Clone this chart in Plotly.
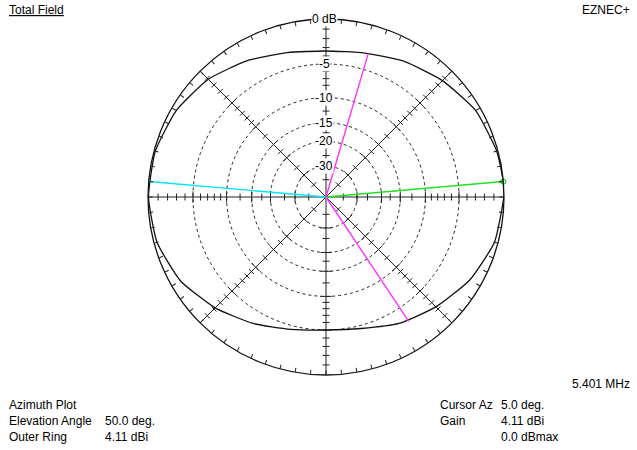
import numpy as np
import plotly.graph_objects as go

W, H = 637, 450
CX, CY, R = 326, 197, 178  # pixel geometry of the polar plot

# ---- data ----
az_deg = [0, 5, 15, 30, 45, 60, 75, 90, 105, 120, 135, 150, 165, 180,
          195, 210, 225, 240, 255, 270, 285, 300, 315, 330, 345]
gain_db = [-0.02, 0.0, -0.12, -0.5, -1.34, -2.2, -3.05, -3.4, -3.0, -2.1, -1.15, -0.5, -0.12, -0.05,
           -0.3, -1.0, -2.18, -3.4, -4.5, -5.0, -4.6, -3.4, -2.33, -1.2, -0.35]

ring_db = [-5, -10, -15, -20, -30]
ring_labels = ["-5", "-10", "-15", "-20", "-30"]
spoke_az = [0, 45, 90, 135, 180, 225, 270, 315]
spoke_tick_db = [-1, -2, -3, -4, -6, -7, -8, -9, -12.5, -17.5, -25, -40]

cursor_az = 5.0
cursor_gain = 0.0
back_az = 175.0
bw_az = [73.6, 303.6]
bw_gain = [-3.0, -3.0]

left_labels = ["Azimuth Plot", "Elevation Angle", "Outer Ring"]
left_values = ["", "50.0 deg.", "4.11 dBi"]
right_labels = ["Cursor Az", "Gain", ""]
right_values = ["5.0 deg.", "4.11 dBi", "0.0 dBmax"]
freq_label = "5.401 MHz"


def arrl(db):
    """ARRL log scale: 0.89 per 2 dB."""
    return 0.89 ** (-np.asarray(db, dtype=float) / 2.0)


FONT = "Liberation Sans, Arial, sans-serif"
TXT = 12
fig = go.Figure()

# pattern
fig.add_trace(go.Scatterpolar(
    r=list(arrl(gain_db)) + [float(arrl(gain_db[0]))],
    theta=az_deg + [az_deg[0]],
    mode="lines", line=dict(color="#111111", width=1.3, shape="spline", smoothing=0.5),
    hoverinfo="skip", showlegend=False))

# spoke ticks
t_r, t_th, t_ang = [], [], []
for a in spoke_az:
    for d in spoke_tick_db:
        t_r.append(float(arrl(d))); t_th.append(a); t_ang.append(-a)
fig.add_trace(go.Scatterpolar(
    r=t_r, theta=t_th, mode="markers",
    marker=dict(symbol="line-ns", size=5, angle=t_ang, line=dict(color="#222222", width=1)),
    hoverinfo="skip", showlegend=False))
c_r, c_th, c_ang = [], [], []
for a in spoke_az:
    for d in ring_db:
        c_r.append(float(arrl(d))); c_th.append(a); c_ang.append(-a)
fig.add_trace(go.Scatterpolar(
    r=c_r, theta=c_th, mode="markers",
    marker=dict(symbol="line-ns", size=8, angle=c_ang, line=dict(color="#222222", width=1)),
    hoverinfo="skip", showlegend=False))

# cyan back line, green cursor line, magenta beamwidth lines
fig.add_trace(go.Scatterpolar(r=[0, 1], theta=[back_az, back_az], mode="lines",
                              line=dict(color="#00e5ff", width=1.4), hoverinfo="skip", showlegend=False))
fig.add_trace(go.Scatterpolar(r=[0, float(arrl(cursor_gain))], theta=[cursor_az, cursor_az], mode="lines",
                              line=dict(color="#22e022", width=1.4), hoverinfo="skip", showlegend=False))
fig.add_trace(go.Scatterpolar(
    r=[0, float(arrl(bw_gain[0])), None, 0, float(arrl(bw_gain[1]))],
    theta=[bw_az[0], bw_az[0], None, bw_az[1], bw_az[1]], mode="lines",
    line=dict(color="#ff33ff", width=1.4), hoverinfo="skip", showlegend=False))
fig.add_trace(go.Scatterpolar(r=[float(arrl(cursor_gain))], theta=[cursor_az], mode="markers",
                              marker=dict(symbol="circle-open", size=5, color="#22cc22",
                                          line=dict(width=1.2, color="#22cc22")),
                              hoverinfo="skip", showlegend=False))

# dummy trace for tick-ring subplot
fig.add_trace(go.Scatterpolar(r=[0], theta=[0], subplot="polar2", mode="markers",
                              marker=dict(opacity=0), hoverinfo="skip", showlegend=False))

dom_x = [(CX - R) / W, (CX + R) / W]
dom_y = [1 - (CY + R) / H, 1 - (CY - R) / H]

fig.update_layout(
    width=W, height=H, margin=dict(l=0, r=0, t=0, b=0),
    paper_bgcolor="white", plot_bgcolor="white", showlegend=False,
    polar=dict(
        domain=dict(x=dom_x, y=dom_y), bgcolor="white",
        angularaxis=dict(rotation=0, direction="counterclockwise", tickmode="array",
                         tickvals=spoke_az, showticklabels=False, ticks="",
                         showgrid=True, gridcolor="#222222", gridwidth=1,
                         showline=True, linecolor="#111111", linewidth=1.3),
        radialaxis=dict(range=[0, 1], tickmode="array", tickvals=list(arrl(ring_db)),
                        showticklabels=False, ticks="", showline=False,
                        showgrid=True, gridcolor="#222222", gridwidth=1, griddash="3px,3px"),
    ),
    polar2=dict(
        domain=dict(x=dom_x, y=dom_y), bgcolor="rgba(0,0,0,0)",
        angularaxis=dict(rotation=0, direction="counterclockwise", tickmode="linear",
                         tick0=0, dtick=5, ticks="inside", ticklen=4, tickcolor="#222222",
                         tickwidth=1, showgrid=False, showline=False, showticklabels=False),
        radialaxis=dict(range=[0, 1], visible=False),
    ),
    font=dict(family=FONT, size=TXT, color="black"),
)


def px(x):
    return x / W


def py(y):
    return 1 - y / H


ann = []
# ring labels along vertical spoke
ann.append(dict(x=px(324), y=py(CY - R * float(arrl(0))), text="0 dB", showarrow=False,
                xref="paper", yref="paper", xanchor="center", yanchor="middle",
                bgcolor="white", borderpad=0, font=dict(size=12)))
for d, lab in zip(ring_db, ring_labels):
    ann.append(dict(x=px(324), y=py(CY - R * float(arrl(d))), text=lab, showarrow=False,
                    xref="paper", yref="paper", xanchor="center", yanchor="middle",
                    bgcolor="white", borderpad=0, font=dict(size=12)))

ann.append(dict(x=px(7), y=py(10), text="<u>Total Field</u>", showarrow=False, xref="paper", yref="paper",
                xanchor="left", yanchor="middle"))
ann.append(dict(x=px(632), y=py(10), text="EZNEC+", showarrow=False, xref="paper", yref="paper",
                xanchor="right", yanchor="middle"))
ann.append(dict(x=px(632), y=py(384), text=freq_label, showarrow=False, xref="paper", yref="paper",
                xanchor="right", yanchor="middle"))
rows = [405, 421, 437]
for i, yy in enumerate(rows):
    for txt, xx in ((left_labels[i], 7), (left_values[i], 103), (right_labels[i], 438), (right_values[i], 499)):
        if txt:
            ann.append(dict(x=px(xx), y=py(yy), text=txt, showarrow=False, xref="paper", yref="paper",
                            xanchor="left", yanchor="middle"))
fig.update_layout(annotations=ann)

fig.write_html("out.html", config={"displayModeBar": False},
               post_script="document.body.style.margin='0';document.body.style.padding='0';")
